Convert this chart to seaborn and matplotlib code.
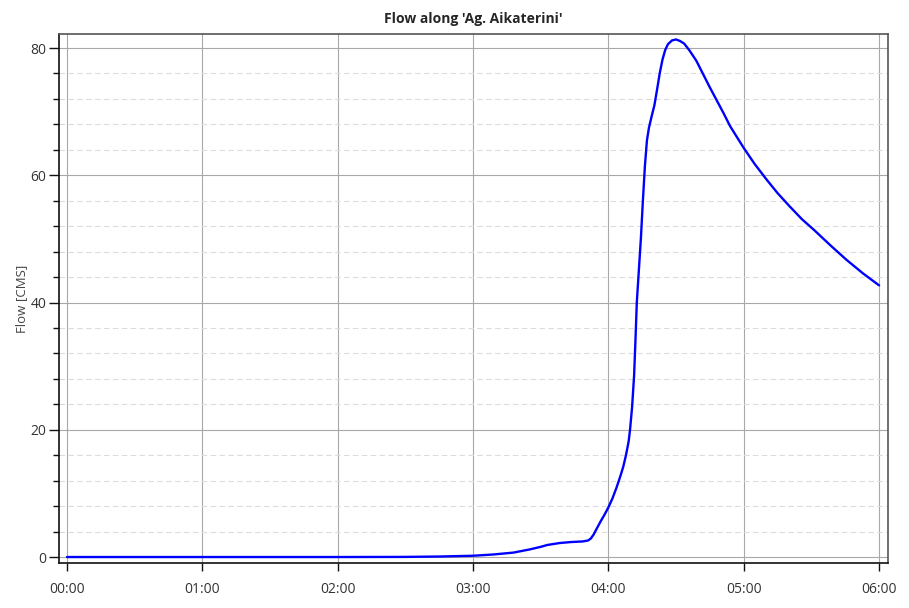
import pandas as pd
import matplotlib
matplotlib.use("Agg")
import matplotlib.pyplot as plt
import seaborn as sns
from matplotlib.ticker import MultipleLocator

# time in hours since start, flow in CMS
hours = [0.0, 0.5, 1.0, 1.5, 2.0, 2.5, 2.75, 3.0, 3.15, 3.3, 3.42, 3.5, 3.55,
         3.64, 3.72, 3.81, 3.85, 3.87, 3.89, 3.91, 3.94, 3.97, 4.0, 4.03,
         4.06, 4.09, 4.11, 4.13, 4.15, 4.16, 4.175, 4.19, 4.20, 4.21, 4.225,
         4.24, 4.255, 4.27, 4.285, 4.30, 4.32, 4.34, 4.36, 4.38, 4.40, 4.42,
         4.44, 4.47, 4.50, 4.53, 4.56, 4.60, 4.65, 4.70, 4.75, 4.80, 4.85,
         4.90, 4.95, 5.0, 5.08, 5.17, 5.25, 5.34, 5.43, 5.52, 5.64, 5.76,
         5.88, 6.0]
flow = [0, 0, 0, 0, 0, 0.02, 0.08, 0.2, 0.4, 0.7, 1.2, 1.6, 1.9,
        2.2, 2.35, 2.45, 2.6, 2.9, 3.5, 4.3, 5.5, 6.6, 7.8, 9.2,
        10.9, 12.8, 14.2, 16.0, 18.2, 20.0, 23.5, 28.5, 34.0, 40.0, 45.0,
        50.0, 56.0, 61.5, 65.5, 67.5, 69.3, 71.0, 73.5, 76.1, 78.2, 79.7,
        80.6, 81.2, 81.35, 81.1, 80.7, 79.6, 78.0, 75.9, 73.8, 71.8, 69.8,
        67.7, 66.0, 64.3, 61.8, 59.3, 57.2, 55.1, 53.1, 51.4, 49.0, 46.7,
        44.6, 42.7]
tick_hours = [0, 1, 2, 3, 4, 5, 6]
tick_labels = ["00:00", "01:00", "02:00", "03:00", "04:00", "05:00", "06:00"]

df = pd.DataFrame({"Hours": hours, "Flow": flow})

sns.set_style("ticks")
plt.rcParams["font.family"] = ["Open Sans", "DejaVu Sans"]

fig = plt.figure(figsize=(9.09, 6.08), dpi=100)
ax = fig.add_axes([0.0649, 0.074, 0.912, 0.870])

sns.lineplot(x="Hours", y="Flow", data=df, color="#0000ff", linewidth=1.7, ax=ax)

ax.set_xlim(-0.059, 6.066)
ax.set_ylim(-0.94, 82.2)
ax.set_xticks(tick_hours)
ax.set_xticklabels(tick_labels)
ax.yaxis.set_major_locator(MultipleLocator(20))
ax.yaxis.set_minor_locator(MultipleLocator(4))

ax.grid(which="major", color="#a8a8a8", linewidth=0.8, linestyle="-")
ax.grid(which="minor", axis="y", color="#dcdcdc", linewidth=0.8, linestyle=(0, (5, 3)))
ax.set_axisbelow(True)

for side in ["top", "right"]:
    ax.spines[side].set_color("#555555")
    ax.spines[side].set_linewidth(1.2)
for side in ["left", "bottom"]:
    ax.spines[side].set_color("#111111")
    ax.spines[side].set_linewidth(1.2)

ax.tick_params(axis="both", which="major", labelsize=10, labelcolor="#333333",
               color="#111111", width=1.0)
ax.tick_params(axis="y", which="major", length=7, pad=2)
ax.tick_params(axis="y", which="minor", length=4, color="#111111", width=1.0)
ax.tick_params(axis="x", which="major", length=6, pad=8)

ax.set_xlabel("")
ax.set_ylabel("Flow [CMS]", fontsize=9.5, color="#444444", labelpad=2)
ax.set_title("Flow along 'Ag. Aikaterini'", fontsize=10, fontweight="bold", pad=8)

fig.savefig("out.png", dpi=100)
